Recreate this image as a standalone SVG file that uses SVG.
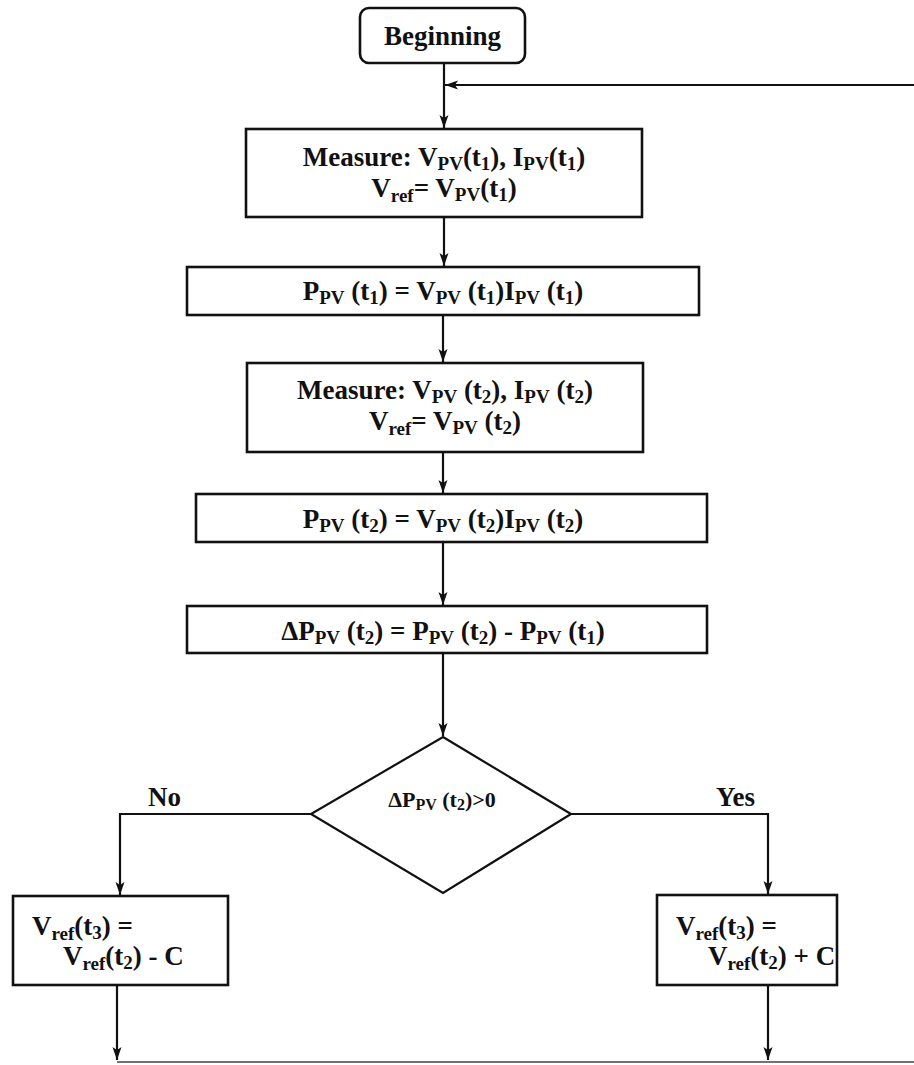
<svg xmlns="http://www.w3.org/2000/svg" width="914" height="1065" viewBox="0 0 914 1065">
<style>
.box{fill:#fff;stroke:#111;stroke-width:2.6}
.ln{fill:none;stroke:#111;stroke-width:2.2}
.t{font-family:"Liberation Serif","Times New Roman",serif;font-weight:bold;fill:#111;font-size:27px}
.s{font-size:19px}
.dt{font-size:22px}
.ds{font-size:16px}
</style>
<defs>
<marker id="ah" markerUnits="userSpaceOnUse" markerWidth="14" markerHeight="14" viewBox="0 0 14 14" refX="13" refY="7" orient="auto">
<path d="M0,2.5 L13,7 L0,11.5 L3,7 Z" fill="#111"/>
</marker>
</defs>
<rect width="914" height="1065" fill="#fff"/>
<g id="connectors">
<line class="ln" x1="444" y1="63" x2="444" y2="128" marker-end="url(#ah)"/>
<line class="ln" x1="914" y1="85" x2="445" y2="85" marker-end="url(#ah)"/>
<line class="ln" x1="444" y1="217" x2="444" y2="266" marker-end="url(#ah)"/>
<line class="ln" x1="443" y1="315" x2="443" y2="362" marker-end="url(#ah)"/>
<line class="ln" x1="443" y1="452" x2="443" y2="493" marker-end="url(#ah)"/>
<line class="ln" x1="443" y1="542" x2="443" y2="605" marker-end="url(#ah)"/>
<line class="ln" x1="443" y1="653" x2="443" y2="736" marker-end="url(#ah)"/>
<polyline class="ln" points="311,814 120,814 120,895" marker-end="url(#ah)"/>
<polyline class="ln" points="571,814 768,814 768,894" marker-end="url(#ah)"/>
<line class="ln" x1="117" y1="985" x2="117" y2="1060" marker-end="url(#ah)"/>
<line class="ln" x1="768" y1="985" x2="768" y2="1060" marker-end="url(#ah)"/>
<line x1="117" y1="1062" x2="914" y2="1062" stroke="#444" stroke-width="1.5"/>
</g>
<g id="n_begin">
<rect class="box" x="360" y="8" width="165" height="55" rx="9"/>
<text class="t" x="442.5" y="45" text-anchor="middle" font-size="29">Beginning</text>
</g>
<g id="n_measure1">
<rect class="box" x="246" y="129" width="396" height="88"/>
<text class="t" x="444" y="166" text-anchor="middle">Measure: V<tspan class="s" dy="4">PV</tspan><tspan dy="-4">(t</tspan><tspan class="s" dy="4">1</tspan><tspan dy="-4">), I</tspan><tspan class="s" dy="4">PV</tspan><tspan dy="-4">(t</tspan><tspan class="s" dy="4">1</tspan><tspan dy="-4">)</tspan></text>
<text class="t" x="444" y="197" text-anchor="middle">V<tspan class="s" dy="5">ref</tspan><tspan dy="-5">= V</tspan><tspan class="s" dy="4">PV</tspan><tspan dy="-4">(t</tspan><tspan class="s" dy="4">1</tspan><tspan dy="-4">)</tspan></text>
</g>
<g id="n_power1">
<rect class="box" x="187" y="267" width="512" height="48"/>
<text class="t" x="443" y="300" text-anchor="middle">P<tspan class="s" dy="4">PV</tspan><tspan dy="-4"> (t</tspan><tspan class="s" dy="4">1</tspan><tspan dy="-4">) = V</tspan><tspan class="s" dy="4">PV</tspan><tspan dy="-4"> (t</tspan><tspan class="s" dy="4">1</tspan><tspan dy="-4">)I</tspan><tspan class="s" dy="4">PV</tspan><tspan dy="-4"> (t</tspan><tspan class="s" dy="4">1</tspan><tspan dy="-4">)</tspan></text>
</g>
<g id="n_measure2">
<rect class="box" x="247" y="363" width="396" height="89"/>
<text class="t" x="445" y="399" text-anchor="middle">Measure: V<tspan class="s" dy="4">PV</tspan><tspan dy="-4"> (t</tspan><tspan class="s" dy="4">2</tspan><tspan dy="-4">), I</tspan><tspan class="s" dy="4">PV</tspan><tspan dy="-4"> (t</tspan><tspan class="s" dy="4">2</tspan><tspan dy="-4">)</tspan></text>
<text class="t" x="445" y="430" text-anchor="middle">V<tspan class="s" dy="5">ref</tspan><tspan dy="-5">= V</tspan><tspan class="s" dy="4">PV</tspan><tspan dy="-4"> (t</tspan><tspan class="s" dy="4">2</tspan><tspan dy="-4">)</tspan></text>
</g>
<g id="n_power2">
<rect class="box" x="196" y="494" width="511" height="48"/>
<text class="t" x="443" y="528" text-anchor="middle">P<tspan class="s" dy="4">PV</tspan><tspan dy="-4"> (t</tspan><tspan class="s" dy="4">2</tspan><tspan dy="-4">) = V</tspan><tspan class="s" dy="4">PV</tspan><tspan dy="-4"> (t</tspan><tspan class="s" dy="4">2</tspan><tspan dy="-4">)I</tspan><tspan class="s" dy="4">PV</tspan><tspan dy="-4"> (t</tspan><tspan class="s" dy="4">2</tspan><tspan dy="-4">)</tspan></text>
</g>
<g id="n_delta">
<rect class="box" x="187" y="606" width="520" height="47"/>
<text class="t" x="443" y="640" text-anchor="middle">ΔP<tspan class="s" dy="4">PV</tspan><tspan dy="-4"> (t</tspan><tspan class="s" dy="4">2</tspan><tspan dy="-4">) = P</tspan><tspan class="s" dy="4">PV</tspan><tspan dy="-4"> (t</tspan><tspan class="s" dy="4">2</tspan><tspan dy="-4">) - P</tspan><tspan class="s" dy="4">PV</tspan><tspan dy="-4"> (t</tspan><tspan class="s" dy="4">1</tspan><tspan dy="-4">)</tspan></text>
</g>
<g id="n_decision">
<polygon points="443,737 571,814 443,893 311,814" fill="#fff" stroke="#111" stroke-width="2.2"/>
<text class="t dt" x="442" y="807" text-anchor="middle">ΔP<tspan class="ds" dy="3">PV</tspan><tspan dy="-3"> (t</tspan><tspan class="ds" dy="3">2</tspan><tspan dy="-3">)&gt;0</tspan></text>
</g>
<g id="labels">
<text class="t" x="148" y="806" font-size="26">No</text>
<text class="t" x="716" y="806" font-size="26">Yes</text>
</g>
<g id="n_minus">
<rect class="box" x="13" y="896" width="215" height="89"/>
<text class="t" x="32" y="935" font-size="26">V<tspan class="s" dy="5">ref</tspan><tspan dy="-5">(t</tspan><tspan class="s" dy="4">3</tspan><tspan dy="-4">) =</tspan></text>
<text class="t" x="63" y="965" font-size="26">V<tspan class="s" dy="5">ref</tspan><tspan dy="-5">(t</tspan><tspan class="s" dy="4">2</tspan><tspan dy="-4">) - C</tspan></text>
</g>
<g id="n_plus">
<rect class="box" x="657" y="895" width="180" height="90"/>
<text class="t" x="676" y="935" font-size="26">V<tspan class="s" dy="5">ref</tspan><tspan dy="-5">(t</tspan><tspan class="s" dy="4">3</tspan><tspan dy="-4">) =</tspan></text>
<text class="t" x="708" y="965" font-size="26">V<tspan class="s" dy="5">ref</tspan><tspan dy="-5">(t</tspan><tspan class="s" dy="4">2</tspan><tspan dy="-4">) + C</tspan></text>
</g>
</svg>
